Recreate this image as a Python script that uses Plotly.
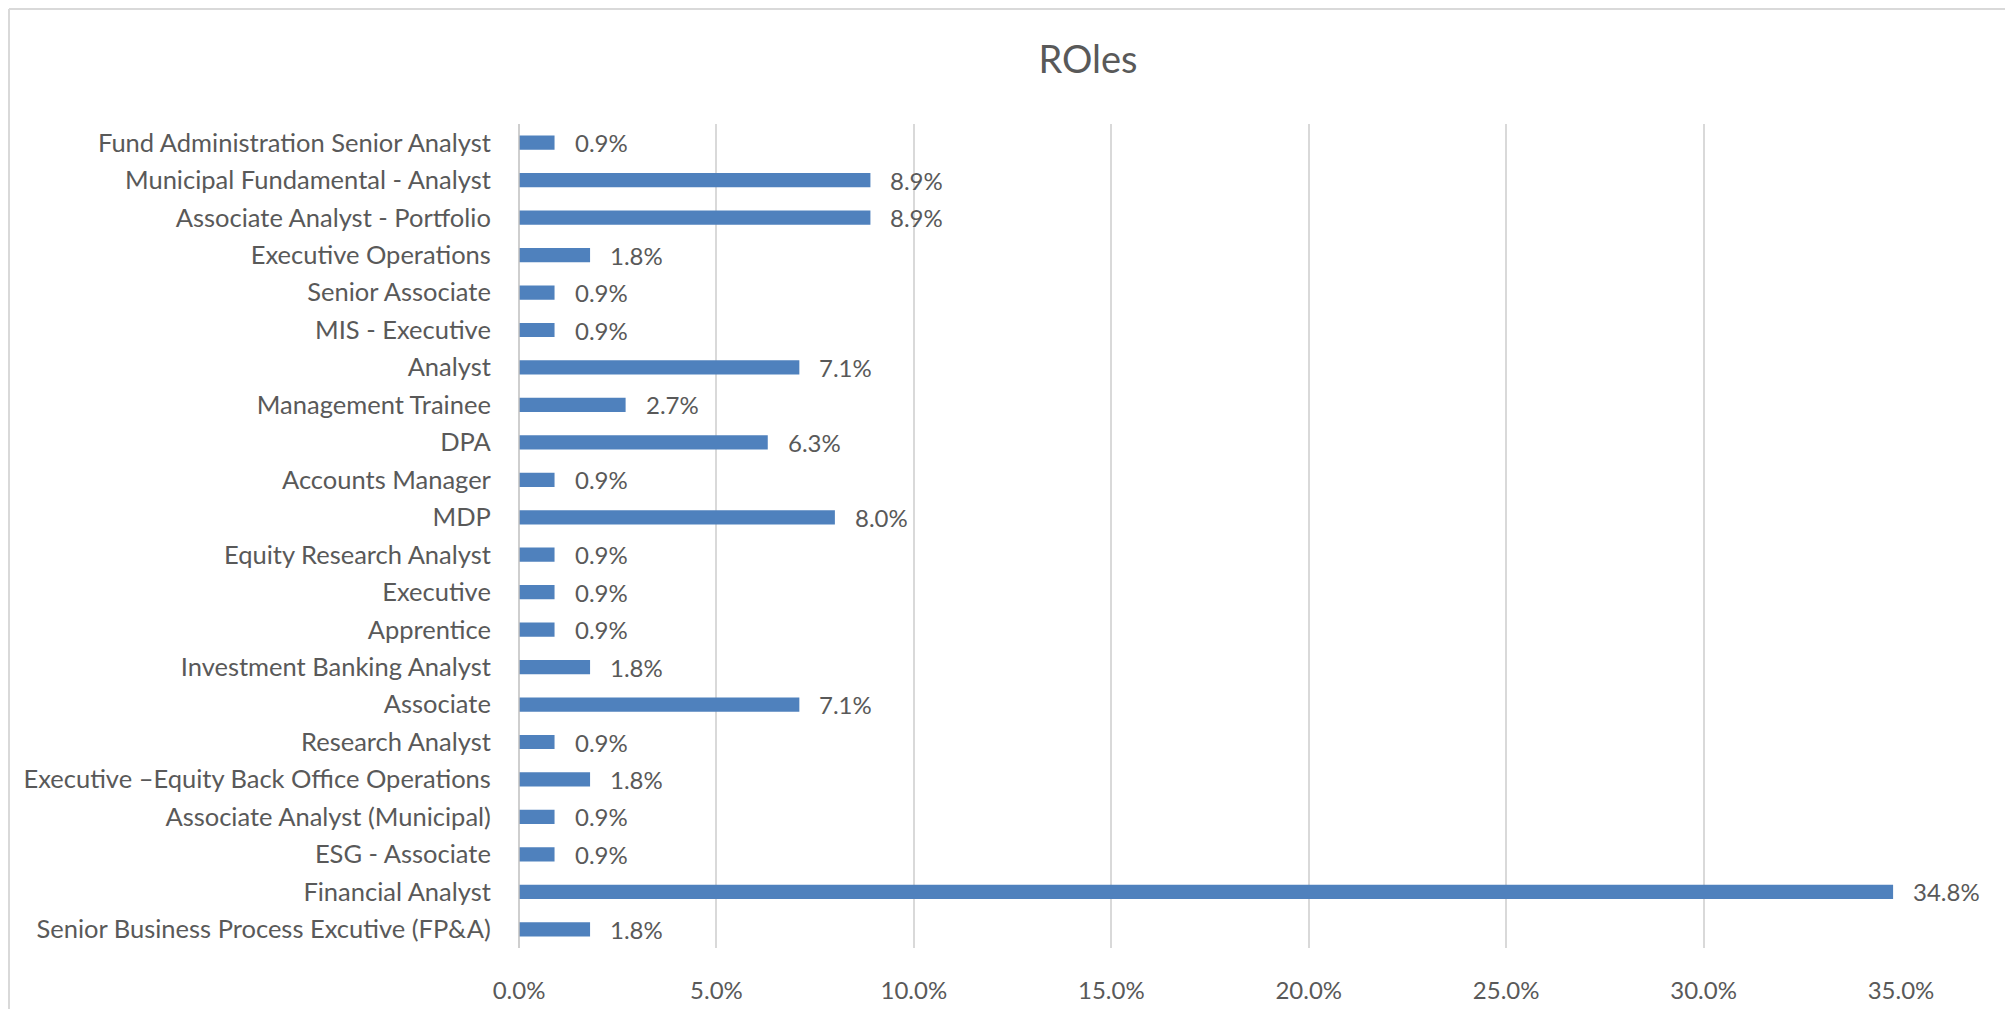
import plotly.graph_objects as go

# categories listed bottom -> top
roles = [
    "Senior Business Process Excutive (FP&A)",
    "Financial Analyst",
    "ESG - Associate",
    "Associate Analyst (Municipal)",
    "Executive –Equity Back Office Operations",
    "Research Analyst",
    "Associate",
    "Investment Banking Analyst",
    "Apprentice",
    "Executive",
    "Equity Research Analyst",
    "MDP",
    "Accounts Manager",
    "DPA",
    "Management Trainee",
    "Analyst",
    "MIS - Executive",
    "Senior Associate",
    "Executive Operations",
    "Associate Analyst - Portfolio",
    "Municipal Fundamental - Analyst",
    "Fund Administration Senior Analyst",
]
shares = [0.018, 0.348, 0.009, 0.009, 0.018, 0.009, 0.071, 0.018, 0.009, 0.009, 0.009,
          0.080, 0.009, 0.063, 0.027, 0.071, 0.009, 0.009, 0.018, 0.089, 0.089, 0.009]
tick_vals = [0, 0.05, 0.10, 0.15, 0.20, 0.25, 0.30, 0.35]
tick_text = ["0.0%", "5.0%", "10.0%", "15.0%", "20.0%", "25.0%", "30.0%", "35.0%"]
title_text = "ROles"

FONT = "Lato"
GREY = "#595959"

# page body has an 8px margin, so the figure is drawn 8px in from the window corner
W, H = 1997, 1001
L, R, T, B = 511, 104, 116, 61
PW, PH = W - L - R, H - T - B

fig = go.Figure()
fig.add_trace(go.Bar(
    x=shares, y=roles, orientation="h",
    marker=dict(color="#4F81BD", line=dict(width=0)),
    hoverinfo="x+y",
))

for v, r in zip(shares, roles):
    fig.add_annotation(x=v, y=r, xref="x", yref="y", text=f"{v*100:.1f}%",
                       showarrow=False, xanchor="left", xshift=18,
                       font=dict(family=FONT, size=24, color=GREY))

frame_x = (1 - L) / PW
frame_y = (H - B - 1) / PH

fig.update_layout(
    width=W, height=H,
    margin=dict(l=L, r=R, t=T, b=B),
    paper_bgcolor="white", plot_bgcolor="white",
    bargap=0.62,
    showlegend=False,
    title=dict(text=title_text, x=1080 / W, xanchor="center", y=1 - 52 / H, yanchor="middle",
               font=dict(family=FONT, size=38, color=GREY)),
    xaxis=dict(range=[0, 0.35], tickvals=tick_vals, ticktext=tick_text,
               showgrid=True, gridcolor="#d9d9d9", gridwidth=1.5, zeroline=False,
               showline=False, ticks="outside", ticklen=21, tickcolor="rgba(0,0,0,0)",
               tickfont=dict(family=FONT, size=24, color=GREY), fixedrange=True,
               automargin=False),
    yaxis=dict(categoryorder="array", categoryarray=roles, showgrid=False,
               zeroline=False, showline=False,
               ticks="outside", ticklen=22, tickcolor="rgba(0,0,0,0)",
               tickfont=dict(family=FONT, size=25.5, color=GREY), fixedrange=True,
               automargin=False),
    shapes=[
        dict(type="line", xref="paper", yref="paper", x0=0, x1=0, y0=0, y1=1,
             line=dict(color="#bfbfbf", width=1.5), layer="above"),
        dict(type="line", xref="paper", x0=frame_x, x1=1.2, yref="paper", y0=frame_y, y1=frame_y,
             line=dict(color="#d9d9d9", width=2)),
        dict(type="line", xref="paper", x0=frame_x, x1=frame_x, yref="paper", y0=-0.2, y1=frame_y,
             line=dict(color="#d9d9d9", width=2)),
    ],
)

fig.write_html("out.html")
